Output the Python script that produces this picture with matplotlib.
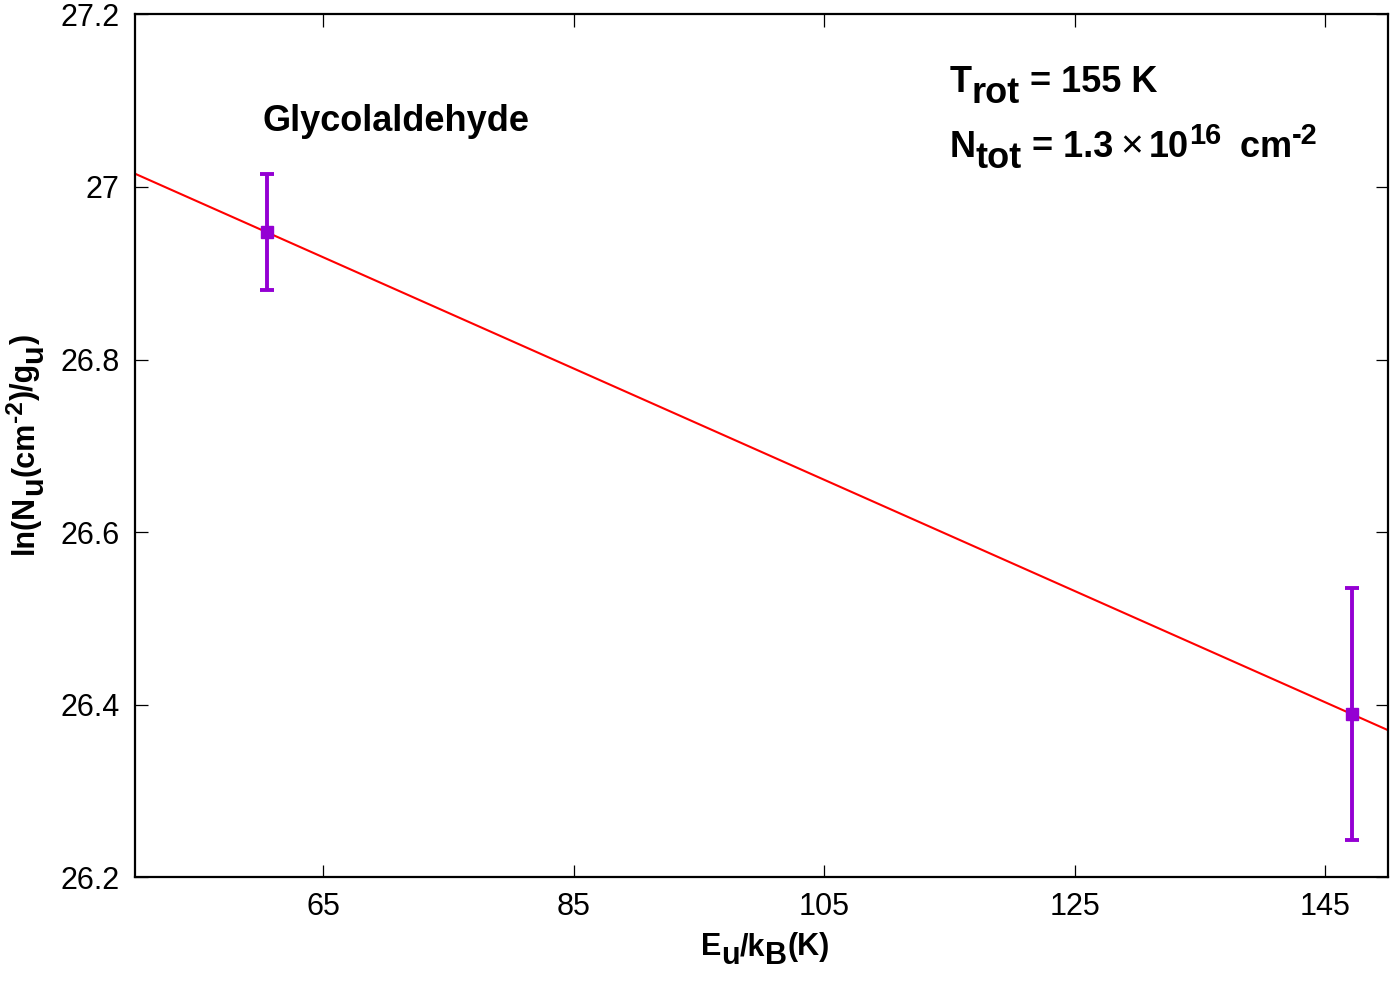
import matplotlib
matplotlib.use("Agg")
import matplotlib.pyplot as plt
from matplotlib.ticker import FormatStrFormatter
from matplotlib.transforms import IdentityTransform
import numpy as np

# rotation diagram data
energy = [60.5, 147.1]          # E_u/k_B (K)
ln_nu = [26.948, 26.389]        # ln(N_u/g_u)
ln_err = [0.067, 0.146]

# fitted line
t_rot = 155.0
fit_x = [50.0, 150.0]
intercept = 27.338

x_ticks = [65, 85, 105, 125, 145]
y_ticks = [26.2, 26.4, 26.6, 26.8, 27.0, 27.2]

plt.rcParams["font.family"] = ["Liberation Sans", "DejaVu Sans"]

DPI = 100


def text_width(fig, renderer, s, size, weight):
    # width including leading/trailing blanks
    t1 = fig.text(0, 0, "|" + s + "|", fontsize=size, fontweight=weight)
    t2 = fig.text(0, 0, "||", fontsize=size, fontweight=weight)
    w = t1.get_window_extent(renderer).width - t2.get_window_extent(renderer).width
    t1.remove()
    t2.remove()
    return w


def rich_text(fig, x0, y0, pieces, size, rotation=0):
    """gnuplot-like enhanced text; x0, y0 in pixels (origin bottom-left)"""
    renderer = fig.canvas.get_renderer()
    em = size * DPI / 72.0
    pos = 0.0
    for s, kind, weight in pieces:
        if kind == "gap":
            pos += s * em
            continue
        fs = size
        shift = 0.0
        if kind == "sub":
            shift = -0.31 * em
        elif kind == "sup":
            shift = 0.36 * em
            fs = size * 0.8
        elif kind == "sym":
            fs = size * 1.08
        if rotation == 0:
            x, y = x0 + pos, y0 + shift
        else:
            x, y = x0 - shift, y0 + pos
        fig.text(x, y, s, fontsize=fs, fontweight=weight,
                 transform=IdentityTransform(), ha="left", va="baseline",
                 rotation=rotation, rotation_mode="anchor")
        pos += text_width(fig, renderer, s, fs, weight)


def main():
    fig = plt.figure(figsize=(13.96, 9.85), dpi=DPI)
    ax = fig.add_axes([0.0967, 0.1096, 0.8976, 0.8757])

    fx = np.array(fit_x)
    ax.plot(fx, intercept - fx / t_rot, color="red", lw=1.5, zorder=2)
    ax.errorbar(energy, ln_nu, yerr=ln_err, fmt="s", color="#9400d3",
                ms=9, elinewidth=2.8, capsize=5, capthick=2.8, zorder=3)

    ax.set_xlim(50, 150)
    ax.set_ylim(26.2, 27.2)
    ax.set_xticks(x_ticks)
    ax.set_yticks(y_ticks)
    ax.yaxis.set_major_formatter(FormatStrFormatter("%g"))
    ax.tick_params(direction="in", length=9, width=0.9, labelsize=22,
                   top=True, right=True, pad=11)
    for s in ax.spines.values():
        s.set_linewidth(1.6)

    H = 985
    b = "bold"
    rich_text(fig, 701, H - 955,
              [("E", "n", b), ("u", "sub", b), ("/k", "n", b),
               ("B", "sub", b), ("(K)", "n", b)], 22)
    rich_text(fig, 33, H - 554,
              [("ln(N", "n", b), ("u", "sub", b), ("(cm", "n", b),
               ("-2", "sup", b), (")/g", "n", b), ("u", "sub", b),
               (")", "n", b)], 22, rotation=90)

    rich_text(fig, 262, H - 131, [("Glycolaldehyde", "n", b)], 26)
    rich_text(fig, 950, H - 92,
              [("T", "n", b), ("rot", "sub", b), (" = 155 K", "n", b)], 26)
    rich_text(fig, 950, H - 157,
              [("N", "n", b), ("tot", "sub", b), (" = 1.3", "n", b),
               (0.2, "gap", b), ("\u00d7", "sym", "normal"), (0.14, "gap", b),
               ("10", "n", b), ("16", "sup", b), (0.25, "gap", b),
               (" cm", "n", b), ("-2", "sup", b)], 26)

    fig.savefig("out.png", dpi=DPI)


if __name__ == "__main__":
    main()
